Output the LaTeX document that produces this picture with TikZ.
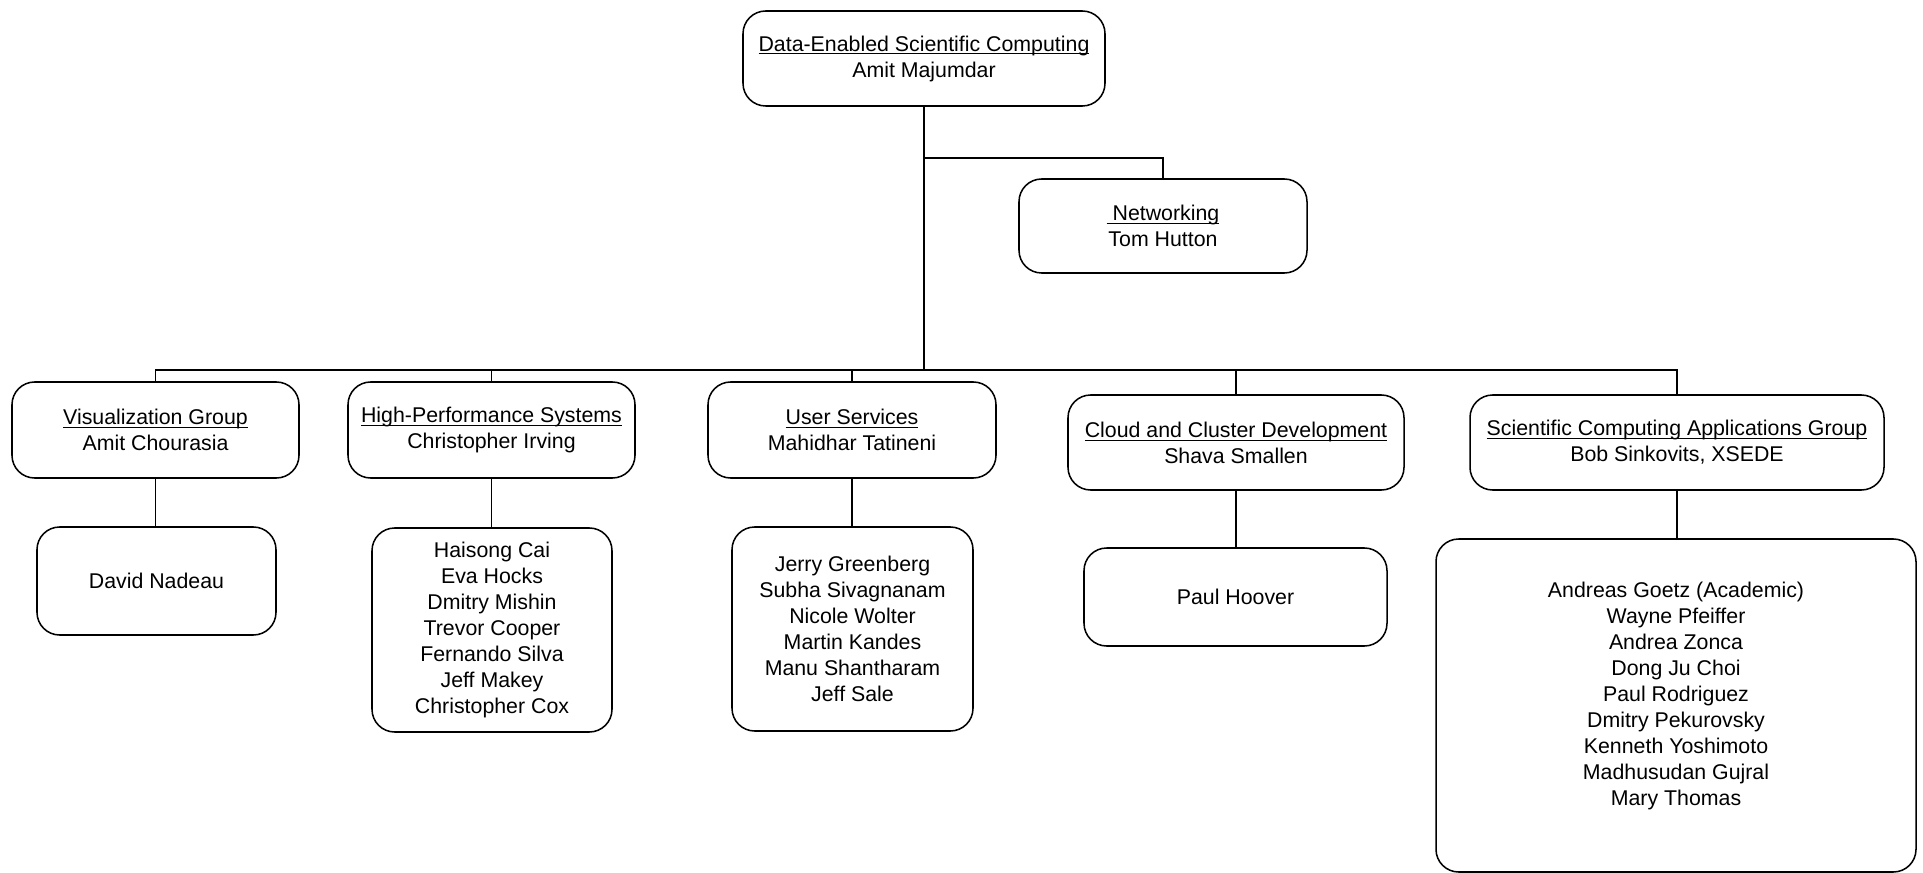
\documentclass[tikz,border=0pt]{standalone}
\usepackage{fontspec}
\setmainfont{Liberation Sans}
\newcommand{\ulx}[1]{\setbox0\hbox{#1}\rlap{\rule[-2.6pt]{\wd0}{0.8pt}}\box0}
\begin{document}
\begin{tikzpicture}[x=0.75pt,y=-0.75pt,
  orgbox/.style={draw=black, rounded corners=17pt, align=center, inner sep=0pt,
    font=\fontsize{16}{19.5}\selectfont, line width=1.15pt},
  conn/.style={draw=black, line width=1.15pt}]
\useasboundingbox (0,0) rectangle (1923,873);

\node[orgbox, minimum width=271.5pt, minimum height=71.25pt] (top) at (924,58.5)
  {\ulx{Data-Enabled Scientific Computing}\\Amit Majumdar};
\node[orgbox, minimum width=216pt, minimum height=70.5pt] (net) at (1163,226)
  {\ulx{\ Networking}\\Tom Hutton};

\node[orgbox, minimum width=215.25pt, minimum height=72pt] (vis) at (155.5,430)
  {\ulx{Visualization Group}\\Amit Chourasia};
\node[orgbox, minimum width=215.25pt, minimum height=72pt] (hps) at (491.5,430)
  {\ulx{High-Performance Systems}\\Christopher Irving};
\node[orgbox, minimum width=216pt, minimum height=72pt] (us) at (852,430)
  {\ulx{User Services}\\Mahidhar Tatineni};
\node[orgbox, minimum width=252pt, minimum height=71.25pt] (cloud) at (1236,442.5)
  {\ulx{Cloud and Cluster Development}\\Shava Smallen};
\node[orgbox, minimum width=310.5pt, minimum height=71.25pt] (scag) at (1677,442.5)
  {\ulx{Scientific Computing Applications Group}\\Bob Sinkovits, XSEDE};

\node[orgbox, minimum width=179.25pt, minimum height=81pt] (dn) at (156.5,581)
  {David Nadeau};
\node[orgbox, minimum width=180pt, minimum height=153pt] (hpsm) at (492,630)
  {Haisong Cai\\Eva Hocks\\Dmitry Mishin\\Trevor Cooper\\Fernando Silva\\Jeff Makey\\Christopher Cox};
\node[orgbox, minimum width=180.75pt, minimum height=153pt] (usm) at (852.5,629)
  {Jerry Greenberg\\Subha Sivagnanam\\Nicole Wolter\\Martin Kandes\\Manu Shantharam\\Jeff Sale};
\node[orgbox, minimum width=227.25pt, minimum height=73.5pt] (ph) at (1235.5,597)
  {Paul Hoover};
\node[orgbox, minimum width=360pt, minimum height=249.75pt] (scagm) at (1676,705.5)
  {Andreas Goetz (Academic)\\Wayne Pfeiffer\\Andrea Zonca\\Dong Ju Choi\\Paul Rodriguez\\Dmitry Pekurovsky\\Kenneth Yoshimoto\\Madhusudan Gujral\\Mary Thomas\rule[-17pt]{0pt}{0pt}};

\coordinate (j) at (924,370);
\coordinate (nb) at (924,158);

\draw[conn] (top.south) -- (j);
\draw[conn] (nb) -| (net.north);
\draw[conn] (vis.north) -- (vis.north |- j) -- (scag.north |- j) -- (scag.north);
\draw[conn] (hps.north) -- (hps.north |- j);
\draw[conn] (us.north) -- (us.north |- j);
\draw[conn] (cloud.north) -- (cloud.north |- j);

\draw[conn] (vis.south) -- (vis.south |- dn.north);
\draw[conn] (hps.south) -- (hps.south |- hpsm.north);
\draw[conn] (us.south) -- (us.south |- usm.north);
\draw[conn] (cloud.south) -- (cloud.south |- ph.north);
\draw[conn] (scag.south) -- (scag.south |- scagm.north);
\end{tikzpicture}
\end{document}
